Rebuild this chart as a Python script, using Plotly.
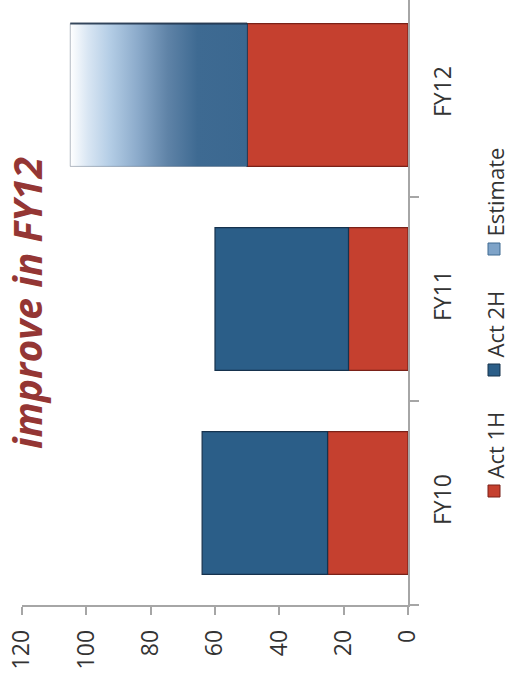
import plotly.graph_objects as go

# Fiscal-year results, split by half, plus the FY12 estimate
categories = ["FY10", "FY11", "FY12"]
act_1h = [25, 18.5, 50]
act_2h = [39, 41.5, 0]
estimate = [0, 0, 55]
value_ticks = [0, 20, 40, 60, 80, 100, 120]
series_names = ["Act 1H", "Act 2H", "Estimate"]
headline = "improve in FY12"

RED = "#C5402F"
RED_EDGE = "#7A2118"
BLUE = "#2B5E88"
BLUE_EDGE = "#16324D"
AXIS = "#A6A6A6"
TEXT = "#333333"
TITLE_RED = "#943634"
FONT = "Open Sans"

W, H = 509, 688
ML, MR, MT, MB = 22, 101, 0, 83
BAR_W = 0.7

pos = list(range(len(categories)))

fig = go.Figure()

fig.add_trace(go.Bar(
    y=pos, x=act_1h, orientation="h", width=BAR_W, name=series_names[0],
    marker=dict(color=RED, line=dict(color=RED_EDGE, width=1.2)),
    showlegend=False,
))
fig.add_trace(go.Bar(
    y=pos, x=act_2h, base=act_1h, orientation="h", width=BAR_W, name=series_names[1],
    marker=dict(color=BLUE, line=dict(color=BLUE_EDGE, width=1.2)),
    showlegend=False,
))

# Estimate segment: a filled polygon so it can carry a gradient fill
for i, est in enumerate(estimate):
    if est <= 0:
        continue
    x0 = act_1h[i] + act_2h[i]
    x1 = x0 + est
    y0, y1 = i - BAR_W / 2, i + BAR_W / 2
    fig.add_trace(go.Scatter(
        x=[x0, x1, x1, x0, x0], y=[y0, y0, y1, y1, y0],
        mode="lines", fill="toself", name=series_names[2],
        line=dict(color="rgba(40,60,85,0.35)", width=1),
        fillgradient=dict(
            type="horizontal", start=x0, stop=x1,
            colorscale=[[0.0, "#3B6890"], [0.28, "#3E6A92"], [0.45, "#5F83A7"],
                        [0.62, "#8CABCB"], [0.78, "#B5CEE6"], [0.9, "#D9E6F3"],
                        [1.0, "#FFFFFF"]],
        ),
        hoverinfo="skip", showlegend=False,
    ))
    # darker rim along the upper edge of the estimate segment
    fig.add_trace(go.Scatter(
        x=[x0, x1], y=[y1, y1], mode="lines",
        line=dict(color="rgba(20,40,65,0.8)", width=2),
        hoverinfo="skip", showlegend=False,
    ))

plot_h = H - MT - MB
y_top = -0.5 + plot_h / 204.0

fig.update_layout(
    width=W, height=H,
    margin=dict(l=ML, r=MR, t=MT, b=MB, pad=0),
    paper_bgcolor="white", plot_bgcolor="white",
    barmode="overlay",
    showlegend=False,
    font=dict(family=FONT, color=TEXT, size=22),
    xaxis=dict(
        range=[120, 0], tickvals=value_ticks, ticktext=[str(v) for v in value_ticks],
        showgrid=False, zeroline=False,
        showline=True, linecolor=AXIS, linewidth=1.5,
        ticks="outside", ticklen=8, tickcolor=AXIS, tickwidth=1.5,
        tickangle=-90, tickfont=dict(family=FONT, size=23, color=TEXT),
        ticklabelstandoff=6,
    ),
    yaxis=dict(
        range=[-0.5, y_top], side="right",
        tickvals=pos, ticktext=categories,
        showgrid=False, zeroline=False,
        showline=True, linecolor=AXIS, linewidth=1.5,
        ticks="", tickangle=-90, tickfont=dict(family=FONT, size=23, color=TEXT),
        ticklabelstandoff=14,
        minor=dict(tickvals=[-0.5, 0.5, 1.5], ticks="outside", ticklen=9,
                   tickcolor=AXIS, tickwidth=1.5, showgrid=False),
    ),
)


def px_x(px):
    return (px - ML) / (W - ML - MR)


def px_y(py):
    return (H - MB - py) / plot_h


# Headline, rotated to read upward
fig.add_annotation(
    text="<b><i>" + headline + "</i></b>", textangle=-90,
    xref="paper", yref="paper", x=px_x(26), y=px_y(303),
    xanchor="center", yanchor="middle", showarrow=False,
    font=dict(family=FONT, size=39, color=TITLE_RED),
)

# Rotated legend along the right edge
legend_items = [
    (series_names[0], RED, RED_EDGE, 491, 480),
    (series_names[1], BLUE, BLUE_EDGE, 370, 359),
    (series_names[2], "#7EA3C8", "#3E6A92", 249, 238),
]
for name, fill, edge, marker_y, text_bottom in legend_items:
    fig.add_shape(
        type="rect", xref="paper", yref="paper",
        x0=px_x(488), x1=px_x(500), y0=px_y(marker_y + 6), y1=px_y(marker_y - 6),
        fillcolor=fill, line=dict(color=edge, width=1),
    )
    fig.add_annotation(
        text=name, textangle=-90,
        xref="paper", yref="paper", x=px_x(494), y=px_y(text_bottom),
        xanchor="center", yanchor="bottom", showarrow=False,
        font=dict(family=FONT, size=22, color=TEXT),
    )

fig.write_html("out.html")
